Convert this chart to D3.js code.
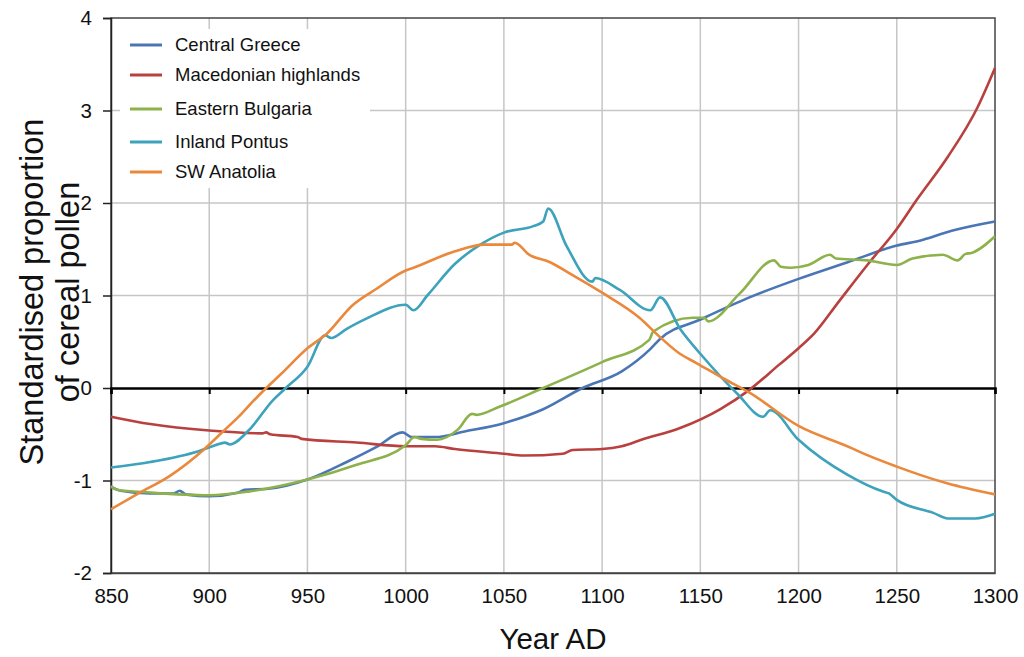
<!DOCTYPE html>
<html>
<head>
<meta charset="utf-8">
<script src="https://cdn.jsdelivr.net/npm/d3@7"></script>
<style>
  body { margin: 0; background: #fff; }
  svg { font-family: "Liberation Sans", Arial, sans-serif; }
</style>
</head>
<body>
<div id="chart"></div>
<script>
// series data
var greeceYears = [850, 855, 870, 882, 885, 888, 900, 915, 918, 930, 950, 970, 985, 998.5, 1003, 1015, 1030, 1050, 1070, 1090, 1110, 1124.5, 1129.5, 1150, 1175, 1200, 1225, 1250, 1263, 1266, 1280, 1300];
var greeceValues = [-1.07, -1.11, -1.14, -1.14, -1.11, -1.15, -1.17, -1.13, -1.10, -1.09, -0.99, -0.80, -0.64, -0.48, -0.53, -0.53, -0.47, -0.38, -0.23, 0.00, 0.18, 0.42, 0.53, 0.74, 0.98, 1.18, 1.36, 1.54, 1.60, 1.62, 1.71, 1.80];

var macedoniaYears = [850, 870, 900, 927, 929, 931, 945, 947, 975, 1000, 1015, 1025, 1050, 1060, 1080, 1085, 1100, 1110, 1120, 1140, 1160, 1175, 1190, 1200, 1208, 1220, 1235, 1250, 1260, 1276, 1291, 1300];
var macedoniaValues = [-0.31, -0.39, -0.46, -0.49, -0.48, -0.50, -0.53, -0.55, -0.59, -0.63, -0.63, -0.66, -0.71, -0.73, -0.71, -0.67, -0.66, -0.63, -0.56, -0.43, -0.23, -0.02, 0.25, 0.43, 0.59, 0.92, 1.33, 1.72, 2.03, 2.50, 3.03, 3.46];

var bulgariaYears = [850, 853, 870, 900, 920, 950, 975, 1000, 1004.5, 1008, 1016, 1026.5, 1033.8, 1036, 1048, 1070, 1100, 1124, 1126, 1146, 1152, 1154, 1170, 1187.5, 1191, 1196, 1205, 1216, 1219, 1235, 1250, 1258, 1273.5, 1281, 1285, 1288, 1300];
var bulgariaValues = [-1.06, -1.10, -1.13, -1.16, -1.12, -0.99, -0.83, -0.62, -0.53, -0.55, -0.56, -0.45, -0.28, -0.29, -0.20, 0.00, 0.28, 0.52, 0.61, 0.76, 0.76, 0.72, 1.02, 1.38, 1.31, 1.30, 1.33, 1.44, 1.40, 1.38, 1.33, 1.40, 1.44, 1.38, 1.45, 1.46, 1.64];

var pontusYears = [850, 870, 895, 903, 908, 910.5, 920, 932.5, 939, 950, 959, 962, 970, 980, 1000, 1004, 1011, 1025, 1038, 1050, 1065, 1070, 1072.5, 1082, 1095, 1096.5, 1109, 1124.5, 1129.5, 1140, 1150, 1168.7, 1182, 1185.5, 1200, 1225, 1243, 1246, 1250, 1268.6, 1276, 1290, 1300];
var pontusValues = [-0.86, -0.80, -0.68, -0.62, -0.59, -0.61, -0.46, -0.13, 0.00, 0.23, 0.57, 0.54, 0.64, 0.75, 0.90, 0.84, 1.00, 1.34, 1.55, 1.68, 1.75, 1.80, 1.94, 1.53, 1.15, 1.19, 1.06, 0.84, 0.98, 0.63, 0.37, -0.06, -0.31, -0.24, -0.56, -0.94, -1.12, -1.14, -1.21, -1.35, -1.41, -1.41, -1.36];

var anatoliaYears = [850, 864, 880, 897, 907, 915, 922, 929, 936, 950, 960, 972.7, 985, 1000, 1004, 1024, 1040, 1054, 1055.5, 1063, 1073.5, 1085, 1100, 1119, 1129.5, 1139.6, 1148, 1162, 1175, 1200, 1227, 1230, 1250, 1275.6, 1300];
var anatoliaValues = [-1.31, -1.14, -0.95, -0.67, -0.47, -0.31, -0.15, 0.00, 0.14, 0.43, 0.59, 0.89, 1.07, 1.27, 1.30, 1.47, 1.55, 1.55, 1.57, 1.44, 1.36, 1.22, 1.03, 0.76, 0.55, 0.37, 0.27, 0.10, -0.05, -0.41, -0.65, -0.68, -0.85, -1.03, -1.15];

var seriesNames = ["Central Greece", "Macedonian highlands", "Eastern Bulgaria", "Inland Pontus", "SW Anatolia"];
var seriesColors = ["#4a76b6", "#b8413f", "#8db24b", "#3da2bb", "#ea883b"];
var xTicks = [850, 900, 950, 1000, 1050, 1100, 1150, 1200, 1250, 1300];
var yTicks = [-2, -1, 0, 1, 2, 3, 4];

var series = [
  {years: greeceYears, values: greeceValues},
  {years: macedoniaYears, values: macedoniaValues},
  {years: bulgariaYears, values: bulgariaValues},
  {years: pontusYears, values: pontusValues},
  {years: anatoliaYears, values: anatoliaValues}
];

var W = 1024, H = 657;
var margin = {top: 18, right: 29, bottom: 84, left: 111};
var width = W - margin.left - margin.right;
var height = H - margin.top - margin.bottom;

var svg = d3.select("#chart").append("svg")
  .attr("width", W)
  .attr("height", H);

var g = svg.append("g")
  .attr("transform", "translate(" + margin.left + "," + margin.top + ")");

var x = d3.scaleLinear().domain([850, 1300]).range([0, width]);
var y = d3.scaleLinear().domain([-2, 4]).range([height, 0]);

// plain numbers with a hyphen for negatives, like the original
var fmt = function(d) { return String(d); };

// gridlines
g.selectAll(".vgrid")
  .data(xTicks.slice(1, -1))
  .enter().append("line")
  .attr("x1", function(d) { return x(d); })
  .attr("x2", function(d) { return x(d); })
  .attr("y1", 0)
  .attr("y2", height)
  .attr("stroke", "#c6c6c6")
  .attr("stroke-width", 1.5);

g.selectAll(".hgrid")
  .data(yTicks.filter(function(d) { return d != 0 && d != -2 && d != 4; }))
  .enter().append("line")
  .attr("x1", 0)
  .attr("x2", width)
  .attr("y1", function(d) { return y(d); })
  .attr("y2", function(d) { return y(d); })
  .attr("stroke", "#c6c6c6")
  .attr("stroke-width", 1.5);

// frame
g.append("rect")
  .attr("x", 0).attr("y", 0)
  .attr("width", width).attr("height", height)
  .attr("fill", "none")
  .attr("stroke", "#444")
  .attr("stroke-width", 1.5);

// left axis
var yAxis = d3.axisLeft(y).tickValues(yTicks).tickSize(8).tickPadding(11).tickFormat(fmt);
g.append("g")
  .call(yAxis)
  .call(function(a) {
    a.select(".domain").attr("stroke", "#222").attr("stroke-width", 1.5);
    a.selectAll(".tick line").attr("stroke", "#222").attr("stroke-width", 1.5);
    a.selectAll("text").attr("font-size", 20.5).attr("fill", "#111")
      .attr("font-family", "Liberation Sans, Arial, sans-serif");
  });

// zero line with ticks
var zeroAxis = d3.axisBottom(x).tickValues(xTicks).tickSize(6).tickFormat("");
g.append("g")
  .attr("transform", "translate(0," + y(0) + ")")
  .call(zeroAxis)
  .call(function(a) {
    a.select(".domain").attr("stroke", "#000").attr("stroke-width", 2.5);
    a.selectAll(".tick line").attr("stroke", "#000").attr("stroke-width", 2);
  });

// bottom labels
var xAxis = d3.axisBottom(x).tickValues(xTicks).tickSize(0).tickPadding(15).tickFormat(fmt);
g.append("g")
  .attr("transform", "translate(0," + height + ")")
  .call(xAxis)
  .call(function(a) {
    a.select(".domain").attr("stroke", "#444").attr("stroke-width", 1.5);
    a.selectAll("text").attr("font-size", 20.5).attr("fill", "#111")
      .attr("font-family", "Liberation Sans, Arial, sans-serif");
  });

// lines
var line = d3.line()
  .curve(d3.curveMonotoneX)
  .x(function(d) { return x(d[0]); })
  .y(function(d) { return y(d[1]); });

series.forEach(function(s, i) {
  var pts = s.years.map(function(yr, j) { return [yr, s.values[j]]; });
  g.append("path")
    .datum(pts)
    .attr("d", line)
    .attr("fill", "none")
    .attr("stroke", seriesColors[i])
    .attr("stroke-width", 2.6)
    .attr("stroke-linejoin", "round");
});

// legend
var legend = g.append("g").attr("transform", "translate(9,11)");
legend.append("rect")
  .attr("width", 250).attr("height", 159)
  .attr("fill", "#fff");

var rowY = [16, 46, 80, 113, 143];
seriesNames.forEach(function(name, i) {
  legend.append("line")
    .attr("x1", 10).attr("x2", 42)
    .attr("y1", rowY[i]).attr("y2", rowY[i])
    .attr("stroke", seriesColors[i])
    .attr("stroke-width", 3);
  legend.append("text")
    .attr("x", 55).attr("y", rowY[i])
    .attr("dy", "0.35em")
    .attr("font-size", 18.5)
    .attr("fill", "#111")
    .text(name);
});

// axis titles
svg.append("text")
  .attr("x", margin.left + width / 2)
  .attr("y", 649)
  .attr("text-anchor", "middle")
  .attr("font-size", 29.5)
  .attr("fill", "#111")
  .text("Year AD");

var yt = svg.append("text")
  .attr("transform", "translate(0,292) rotate(-90)")
  .attr("text-anchor", "middle")
  .attr("font-size", 32.5)
  .attr("fill", "#111");
yt.append("tspan").attr("x", 0).attr("y", 43).text("Standardised proportion");
yt.append("tspan").attr("x", 0).attr("y", 79).text("of cereal pollen");
</script>
</body>
</html>
